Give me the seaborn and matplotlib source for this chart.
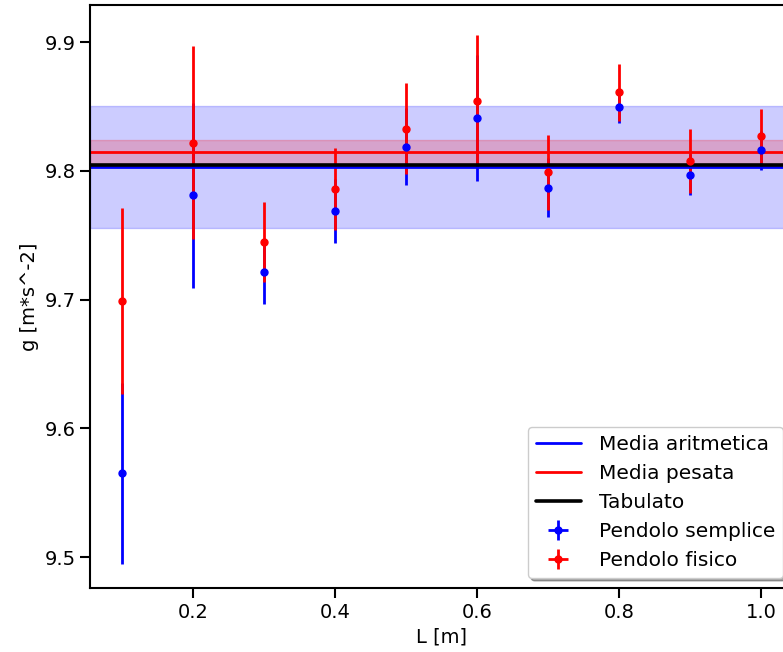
import matplotlib
matplotlib.use('Agg')
import matplotlib.pyplot as plt
import seaborn as sns
import numpy as np

# lunghezze del pendolo [m]
L = [0.1, 0.2, 0.3, 0.4, 0.5, 0.6, 0.7, 0.8, 0.9, 1.0]
L_err = [0.002] * 10

# pendolo semplice
g_semplice = [9.565, 9.781, 9.7215, 9.769, 9.819, 9.841, 9.787, 9.850, 9.797, 9.816]
g_semplice_err = [0.070, 0.072, 0.025, 0.025, 0.030, 0.049, 0.023, 0.013, 0.016, 0.015]

# pendolo fisico
g_fisico = [9.699, 9.822, 9.745, 9.786, 9.833, 9.854, 9.799, 9.861, 9.808, 9.827]
g_fisico_err = [0.072, 0.075, 0.031, 0.032, 0.035, 0.052, 0.029, 0.022, 0.025, 0.021]

media_aritmetica = 9.8033
media_aritmetica_err = 0.0474
media_pesata = 9.8148
media_pesata_err = 0.0093
g_tabulato = 9.8047

sns.set_theme(style='ticks')
plt.rcParams['font.family'] = ['DejaVu Sans']
plt.rcParams['axes.edgecolor'] = 'black'
plt.rcParams['axes.linewidth'] = 1.5
plt.rcParams['xtick.color'] = 'black'
plt.rcParams['ytick.color'] = 'black'
plt.rcParams['text.color'] = 'black'
plt.rcParams['axes.labelcolor'] = 'black'

fig = plt.figure(figsize=(7.83, 6.52), dpi=100)
ax = fig.add_axes([0.115, 0.098, 0.898, 0.894])

ax.errorbar(L, g_semplice, yerr=g_semplice_err, xerr=L_err, fmt='o', color='blue',
            ms=5, elinewidth=2, label='Pendolo semplice')
ax.errorbar(L, g_fisico, yerr=g_fisico_err, xerr=L_err, fmt='o', color='red',
            ms=5, elinewidth=2, label='Pendolo fisico')

ax.axhline(media_aritmetica, color='blue', lw=2, label='Media aritmetica')
ax.axhspan(media_aritmetica - media_aritmetica_err, media_aritmetica + media_aritmetica_err,
           color='blue', alpha=0.2)
ax.axhline(media_pesata, color='red', lw=2, label='Media pesata')
ax.axhspan(media_pesata - media_pesata_err, media_pesata + media_pesata_err,
           color='red', alpha=0.2)
ax.axhline(g_tabulato, color='black', lw=2.6, label='Tabulato')

ax.set_xlim(0.055, 1.045)
ax.set_ylim(9.4759, 9.9288)
ax.set_xticks([0.2, 0.4, 0.6, 0.8, 1.0])
ax.set_yticks([9.5, 9.6, 9.7, 9.8, 9.9])
ax.tick_params(labelsize=14, length=7, width=1.5)
ax.set_xlabel('L [m]', fontsize=14)
ax.set_ylabel('g [m*s^-2]', fontsize=14)

h, l = ax.get_legend_handles_labels()
order = [l.index(n) for n in ['Media aritmetica', 'Media pesata', 'Tabulato',
                              'Pendolo semplice', 'Pendolo fisico']]
ax.legend([h[i] for i in order], [l[i] for i in order], loc='lower right',
          fontsize=14.5, shadow=True, fancybox=True, framealpha=1, edgecolor='0.8',
          handlelength=2.2, handletextpad=0.9)

fig.savefig('out.png', dpi=100)
